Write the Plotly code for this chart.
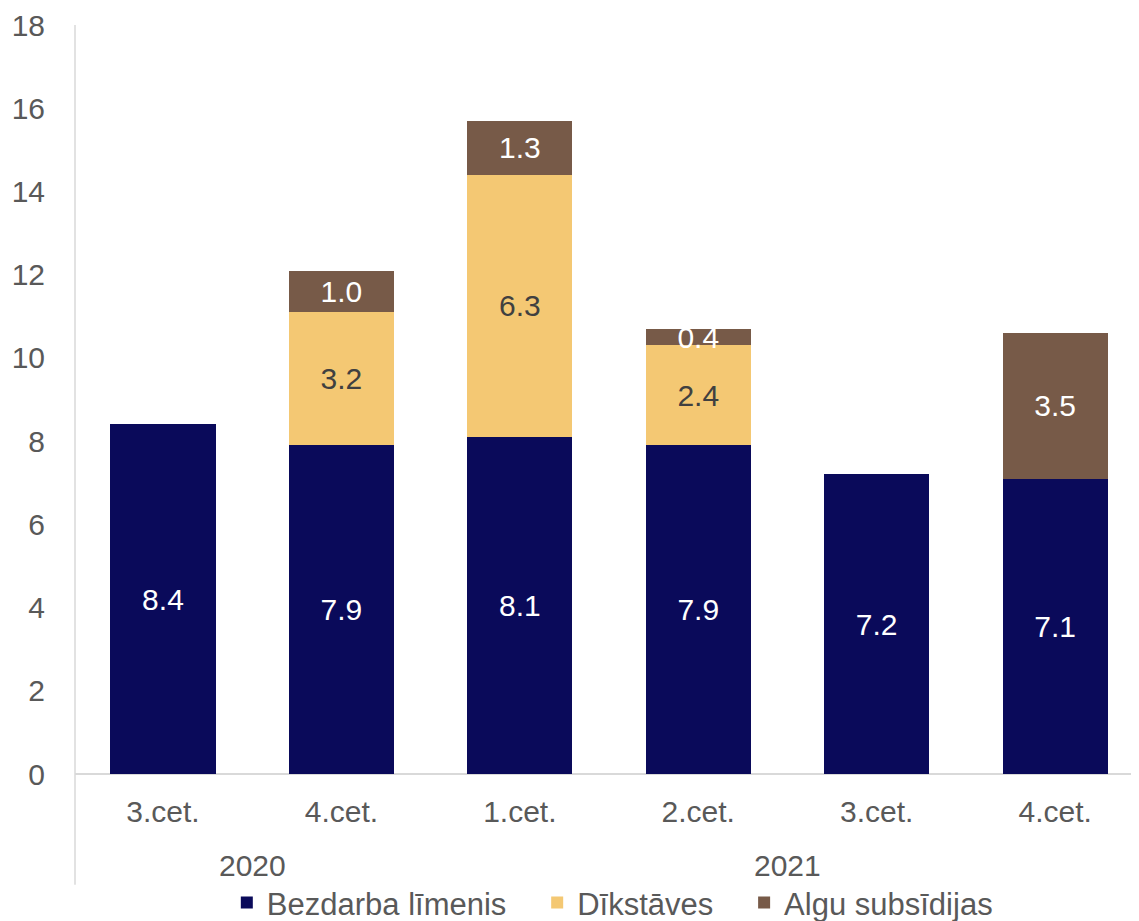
import plotly.graph_objects as go

quarters = ["3.cet.", "4.cet.", "1.cet.", "2.cet.", "3.cet.", "4.cet."]
years = ["2020", "2021"]
year_span = [(0, 1), (2, 5)]
bezdarbs = [8.4, 7.9, 8.1, 7.9, 7.2, 7.1]
dikstaves = [None, 3.2, 6.3, 2.4, None, None]
subsidijas = [None, 1.0, 1.3, 0.4, None, 3.5]
y_ticks = [0, 2, 4, 6, 8, 10, 12, 14, 16, 18]

FONT = "Liberation Sans, Arial, sans-serif"
GRAY = "#595959"
FS = 30
NB = "\u00a0"
x = list(range(len(quarters)))

fig = go.Figure()
series = [
    ("Bezdarba līmenis", NB * 3, bezdarbs, "#0A0A5A", "white"),
    ("Dīkstāves", NB * 3, dikstaves, "#F4C873", "#404040"),
    ("Algu subsīdijas", "", subsidijas, "#775A48", "white"),
]
for name, pad, vals, col, tcol in series:
    fig.add_trace(go.Bar(
        x=x, y=vals, name=name + pad, marker_color=col,
        marker_line_width=0,
        text=[f"{v:.1f}" if v is not None else "" for v in vals],
        textposition="inside", insidetextanchor="middle",
        constraintext="none",
        textfont=dict(family=FONT, size=FS, color=tcol),
        width=0.59,
    ))

for yr, (a, b) in zip(years, year_span):
    fig.add_annotation(x=(a + b) / 2, y=-0.147, xref="x", yref="paper",
                       text=yr, showarrow=False,
                       font=dict(family=FONT, size=FS, color=GRAY))

# left axis line extended below the plot
fig.add_shape(type="line", xref="paper", yref="paper", x0=0, x1=0, y0=1, y1=-0.148,
              line=dict(color="#D9D9D9", width=1.5))

fig.update_layout(
    barmode="stack",
    width=1131, height=913,
    margin=dict(l=67, r=0, t=17, b=147, autoexpand=False),
    plot_bgcolor="white", paper_bgcolor="white",
    font=dict(family=FONT, size=FS, color=GRAY),
    showlegend=True,
    legend=dict(orientation="h", x=0.505, xanchor="center", y=-0.172, yanchor="middle",
                font=dict(family=FONT, size=31, color=GRAY), itemwidth=30,
                traceorder="normal", itemclick=False),
    xaxis=dict(tickmode="array", tickvals=x, ticktext=quarters, range=[-0.493, 5.47],
               showline=False, ticks="", showgrid=False, zeroline=False,
               automargin=False, ticklabelstandoff=17,
               tickfont=dict(family=FONT, size=FS, color=GRAY)),
    yaxis=dict(range=[0, 18], tickvals=y_ticks, showgrid=False, zeroline=True,
               zerolinecolor="#D9D9D9", zerolinewidth=1.5, showline=False, ticks="",
               automargin=False, ticklabelstandoff=29,
               tickfont=dict(family=FONT, size=FS, color=GRAY)),
)

fig.write_html("out.html")
